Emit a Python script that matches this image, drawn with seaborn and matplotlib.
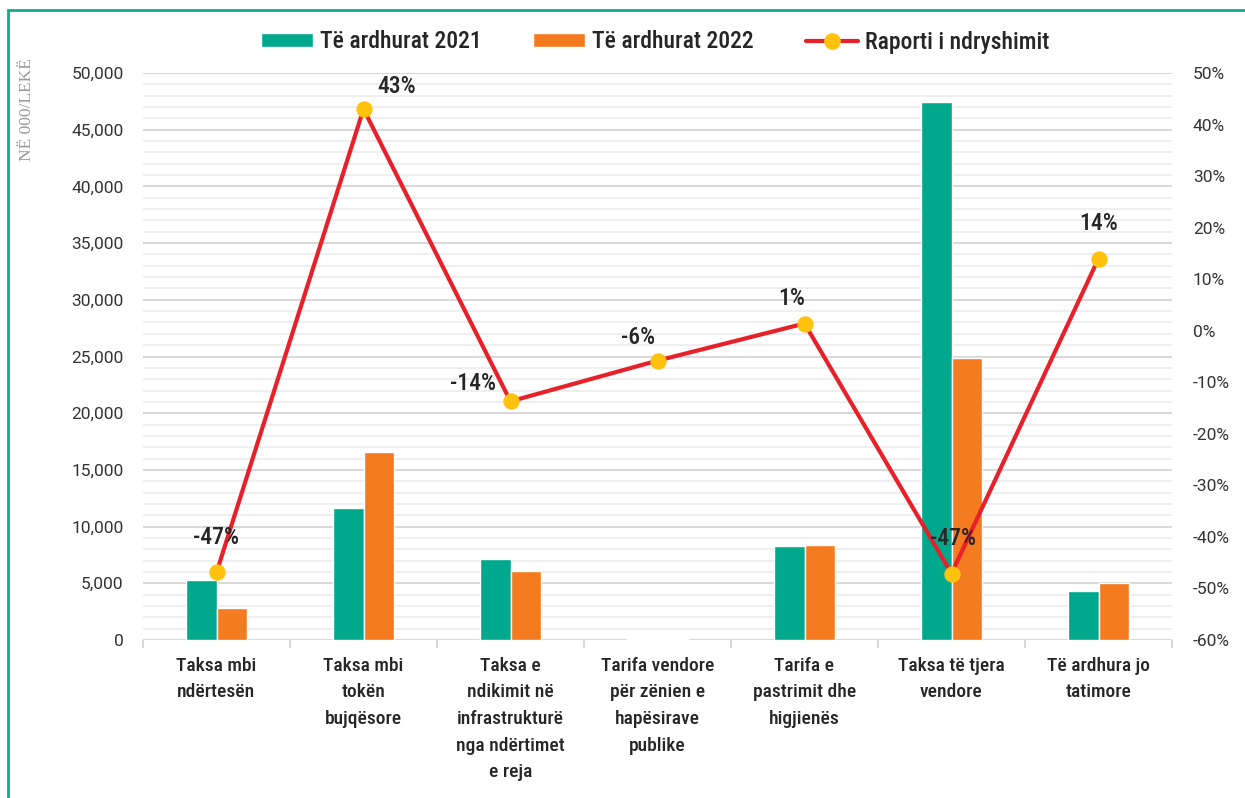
import numpy as np
import pandas as pd
import matplotlib
matplotlib.use("Agg")
import matplotlib.pyplot as plt
import seaborn as sns
from matplotlib import font_manager as fm
from matplotlib.patches import Rectangle, Patch
from matplotlib.lines import Line2D
from matplotlib.ticker import FuncFormatter, MultipleLocator

# data
categories = ["Taksa mbi ndërtesën", "Taksa mbi tokën bujqësore",
              "Taksa e ndikimit në infrastrukturë nga ndërtimet e reja",
              "Tarifa vendore për zënien e hapësirave publike",
              "Tarifa e pastrimit dhe higjienës", "Taksa të tjera vendore",
              "Të ardhura jo tatimore"]
tick_labels = ["Taksa mbi\nndërtesën", "Taksa mbi\ntokën\nbujqësore",
               "Taksa e\nndikimit në\ninfrastrukturë\nnga ndërtimet\ne reja",
               "Tarifa vendore\npër zënien e\nhapësirave\npublike",
               "Tarifa e\npastrimit dhe\nhigjienës", "Taksa të tjera\nvendore",
               "Të ardhura jo\ntatimore"]
revenue_2021 = [5300, 11600, 7100, 60, 8300, 47400, 4350]
revenue_2022 = [2800, 16600, 6100, 45, 8400, 24900, 5050]
ratio = [-46.9, 43.0, -13.7, -5.8, 1.4, -47.1, 14.0]
ratio_labels = ["-47%", "43%", "-14%", "-6%", "1%", "-47%", "14%"]
series_names = ["Të ardhurat 2021", "Të ardhurat 2022", "Raporti i ndryshimit"]

# label offsets in points (dx, dy)
label_offsets = [(0, 25), (24, 16), (-27, 13), (-14, 17), (-9, 18), (1, 25), (0, 25)]

TEAL = "#00A88E"
ORANGE = "#F47B20"
RED = "#E8202A"
YELLOW = "#FFC20E"

available = {f.name for f in fm.fontManager.ttflist}
main_font = "Roboto" if "Roboto" in available else "DejaVu Sans"
cond_font = "Roboto Condensed" if "Roboto Condensed" in available else main_font

sns.set_theme(style="white")
plt.rcParams["font.family"] = [main_font, "DejaVu Sans"]

df = pd.DataFrame({
    "category": categories * 2,
    "value": revenue_2021 + revenue_2022,
    "year": [series_names[0]] * len(categories) + [series_names[1]] * len(categories),
})

fig = plt.figure(figsize=(12.45, 7.98), dpi=100)
ax = fig.add_axes([143 / 1245, 1 - 640 / 798, (1172 - 143) / 1245, (640 - 73) / 798])

sns.barplot(data=df, x="category", y="value", hue="year", order=categories,
            palette=[TEAL, ORANGE], width=0.41, gap=0, saturation=1,
            ax=ax, legend=False, zorder=3)

ax.set_ylim(0, 50000)
ax.set_xlim(-0.5, len(categories) - 0.5)
ax.yaxis.set_major_locator(MultipleLocator(5000))
ax.yaxis.set_minor_locator(MultipleLocator(1000))
ax.yaxis.set_major_formatter(FuncFormatter(lambda v, p: f"{int(v):,}"))
ax.grid(axis="y", which="major", color="#d9d9d9", lw=1.5, zorder=0)
ax.grid(axis="y", which="minor", color="#efefef", lw=1.5, zorder=0)
ax.set_axisbelow(True)
for s in ax.spines.values():
    s.set_visible(False)
ax.set_xlabel("")
ax.set_ylabel("")
ax.set_xticks(range(len(categories)))
ax.set_xticklabels(tick_labels, fontsize=14, fontweight="medium", color="#262626",
                   linespacing=1.62, family=[cond_font, "DejaVu Sans"])
ax.set_xticks(np.arange(-0.5, len(categories)), minor=True)
ax.tick_params(axis="x", which="major", length=0, pad=12)
ax.tick_params(axis="x", which="minor", length=6, width=1.5, color="#d9d9d9", bottom=True)
ax.tick_params(axis="y", which="both", length=0, pad=14, labelsize=12.5, labelcolor="#333333")

ax2 = ax.twinx()
sns.lineplot(x=np.arange(len(categories)), y=ratio, ax=ax2, color=RED, lw=3,
             marker="o", markersize=11, markerfacecolor=YELLOW, markeredgecolor=YELLOW,
             zorder=5)
ax2.set_ylim(-60, 50)
ax2.yaxis.set_major_locator(MultipleLocator(10))
ax2.yaxis.set_major_formatter(FuncFormatter(lambda v, p: f"{int(round(v))}%"))
ax2.tick_params(axis="y", length=0, pad=15, labelsize=12.5, labelcolor="#333333")
ax2.grid(False)
for s in ax2.spines.values():
    s.set_visible(False)
ax2.set_ylabel("")

for i, (val, lab) in enumerate(zip(ratio, ratio_labels)):
    ax2.annotate(lab, (i, val), xytext=label_offsets[i], textcoords="offset points",
                 ha="center", va="center", fontsize=17, fontweight="medium",
                 color="#262626", zorder=6, family=[cond_font, "DejaVu Sans"])

fig.text(27 / 1245, 1 - 110 / 798, "NË 000/LEKË", rotation=90, ha="center", va="center",
         fontsize=12.5, color="#9a9a9a", family="Liberation Serif")

handles = [Patch(facecolor=TEAL), Patch(facecolor=ORANGE),
           Line2D([0], [0], color=RED, lw=3, marker="o", markersize=11,
                  markerfacecolor=YELLOW, markeredgecolor=YELLOW)]
fig.legend(handles, series_names, loc="center", bbox_to_anchor=(655 / 1245, 1 - 42 / 798),
           ncol=3, frameon=False, handlelength=2.2, handleheight=0.5,
           handletextpad=0.3, columnspacing=2.2,
           prop={"family": [cond_font, "DejaVu Sans"], "weight": "medium", "size": 17})

# teal frame (top and left edges visible)
fig.add_artist(Rectangle((8 / 1245, -0.1), 1.2, 1.1 - 10 / 798, transform=fig.transFigure,
                         fill=False, edgecolor="#14A88C", lw=2))

fig.savefig("out.png", dpi=100)
